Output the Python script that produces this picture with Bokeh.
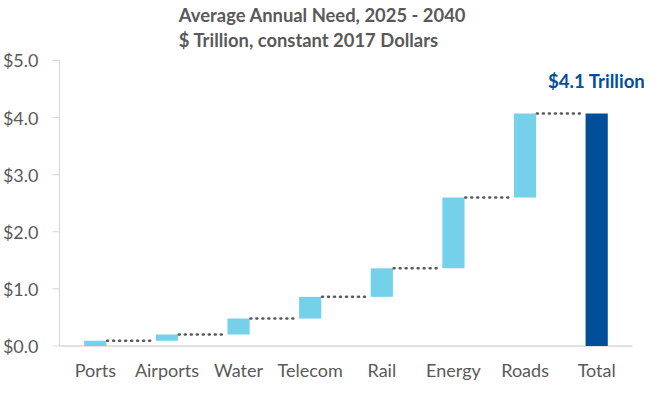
import math
from bokeh.plotting import figure
from bokeh.models import ColumnDataSource, Range1d
from bokeh.core.properties import value
from bokeh.embed import file_html
from bokeh.resources import INLINE

categories = ["Ports", "Airports", "Water", "Telecom", "Rail", "Energy", "Roads", "Total"]
increments = [0.09, 0.11, 0.28, 0.38, 0.50, 1.24, 1.47]
total_label = "$4.1 Trillion"
y_ticks = [0, 1, 2, 3, 4, 5]
y_tick_labels = ["$0.0", "$1.0", "$2.0", "$3.0", "$4.0", "$5.0"]
title_text = "Average Annual Need, 2025 - 2040\n$ Trillion, constant 2017 Dollars"

LIGHT = "#75D1EA"
DARK = "#004F98"
GRAY = "#595959"
AXIS = "#D9D9D9"
FONT = "Lato"
BW = 0.31

# layout (pixels)
W, H, TOP = 644, 387, 48
PAD_L, PAD_R, PAD_B, PAD_T = 59, 12, 42, 8
y_max = y_ticks[-1]

n = len(categories)
xs = [i + 0.5 for i in range(n)]
bottoms, tops = [], []
cum = 0.0
for v in increments:
    bottoms.append(cum)
    cum += v
    tops.append(cum)
total = round(cum, 2)

x_unit = (W - PAD_L - PAD_R) / n
y_unit = (H - TOP - PAD_T - PAD_B) / y_max

step_src = ColumnDataSource(dict(x=xs[:-1], bottom=bottoms, top=tops))
total_src = ColumnDataSource(dict(x=[xs[-1]], bottom=[0.0], top=[total]))
conn_src = ColumnDataSource(dict(x0=[x + BW / 2 + 0.01 for x in xs[:-1]],
                                 x1=[x - BW / 2 - 0.01 for x in xs[1:]], y=tops))

p = figure(width=W, height=H,
           x_range=Range1d(-PAD_L / x_unit, n + PAD_R / x_unit),
           y_range=Range1d(-PAD_B / y_unit, y_max + PAD_T / y_unit),
           x_axis_location=None, y_axis_location=None,
           output_backend="svg", toolbar_location=None, title=title_text,
           min_border=0, min_border_left=0, min_border_right=0,
           min_border_bottom=0, min_border_top=TOP)

p.title.align = "center"
p.title.text_font = FONT
p.title.text_font_size = "18.4px"
p.title.text_font_style = "bold"
p.title.text_color = GRAY
p.title.text_line_height = 1.12
p.title.standoff = 3

p.grid.grid_line_color = None
p.outline_line_color = None

# axes
p.segment(x0=[0], y0=[0], x1=[n], y1=[0], line_color=AXIS, line_width=1.5)
p.segment(x0=[0], y0=[0], x1=[0], y1=[y_max], line_color=AXIS, line_width=1.2)
p.ray(x=[0] * len(y_ticks), y=y_ticks, length=7, length_units="screen", angle=math.pi,
      line_color=AXIS, line_width=1.2)
p.text(x=[0] * len(y_ticks), y=y_ticks, text=y_tick_labels, x_offset=-21,
       text_align="right", text_baseline="middle", text_font=value(FONT),
       text_font_size="18px", text_color=GRAY)
p.text(x=xs, y=[0] * n, text=categories, y_offset=24,
       text_align="center", text_baseline="alphabetic", text_font=value(FONT),
       text_font_size="18px", text_color=GRAY)

# bars
p.vbar(x="x", bottom="bottom", top="top", width=BW, source=step_src,
       fill_color=LIGHT, line_color=None)
p.vbar(x="x", bottom="bottom", top="top", width=BW, source=total_src,
       fill_color=DARK, line_color=None)
p.segment(x0="x0", y0="y", x1="x1", y1="y", source=conn_src,
          line_color=GRAY, line_width=2.5, line_dash="1 5", line_cap="round")

p.text(x=[xs[-1]], y=[total], text=[total_label], y_offset=-33,
       text_align="center", text_baseline="middle", text_font=value(FONT),
       text_font_size="18.6px", text_font_style="bold", text_color=DARK)

open("out.html", "w").write(file_html(p, INLINE))
